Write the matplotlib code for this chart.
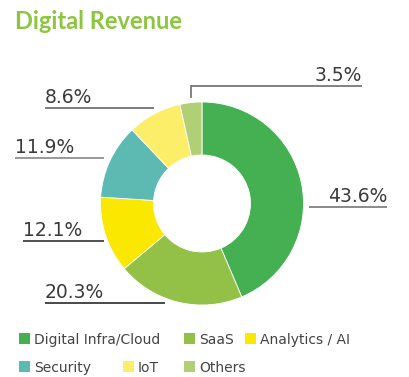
import matplotlib.pyplot as plt
from matplotlib.patches import Rectangle

# data
categories = ["Digital Infra/Cloud", "SaaS", "Analytics / AI", "Security", "IoT", "Others"]
shares = [43.6, 20.3, 12.1, 11.9, 8.6, 3.5]
colors = ["#45b052", "#93c147", "#fae800", "#5dbab2", "#fdee6a", "#b1d076"]

W, H = 409, 377


def py(y):
    # pixel row (from top) -> axes y
    return H - y


fig = plt.figure(figsize=(W / 100, H / 100), dpi=100)
ax = fig.add_axes([0, 0, 1, 1])

wedges, _ = ax.pie(shares, colors=colors, startangle=90, counterclock=False,
                   center=(202, py(203.5)), radius=101.5,
                   wedgeprops=dict(width=53, edgecolor="white", linewidth=0.6))
ax.set_xlim(0, W)
ax.set_ylim(0, H)
ax.set_aspect("equal")
ax.axis("off")

# label layout: (line x0, line x1, line y, text side, line colour)
label_layout = [
    (309, 387, 207, "right", "#777777"),   # 43.6
    (45, 165, 303, "left", "#2a2a2a"),     # 20.3
    (23, 104, 241, "left", "#333333"),     # 12.1
    (15, 104, 158, "left", "#888888"),     # 11.9
    (45, 154, 108, "left", "#666666"),     # 8.6
    (191, 362, 86, "right", "#6d6d6d"),    # 3.5
]

for val, w, (x0, x1, ly, side, lc) in zip(shares, wedges, label_layout):
    ax.plot([x0, x1], [py(ly), py(ly)], color=lc, lw=1.2, solid_capstyle="butt")
    tx = x1 if side == "right" else x0
    ax.text(tx, py(ly - 5), f"{val}%", ha=side, va="baseline",
            fontsize=13.5, color="#3b3b3b")

# vertical tick for the small top slice
ax.plot([191, 191], [py(86), py(97)], color="#6d6d6d", lw=1.2)

fig.text(15 / W, 1 - 29 / H, "Digital Revenue", fontsize=17, fontweight="bold",
         family="Lato", color="#8cc63f", ha="left", va="baseline")

# legend
legend_pos = [(19, 338.5), (184, 338.5), (245, 338.5),
              (19, 366.5), (123, 366.5), (184, 366.5)]
for name, c, (lx, lyc) in zip(categories, colors, legend_pos):
    ax.add_patch(Rectangle((lx, py(lyc + 5.5)), 11, 11, color=c, lw=0))
    ax.text(lx + 15, py(lyc + 5.5), name, fontsize=10, color="#444444",
            ha="left", va="baseline")

fig.savefig("out.png", dpi=100)
